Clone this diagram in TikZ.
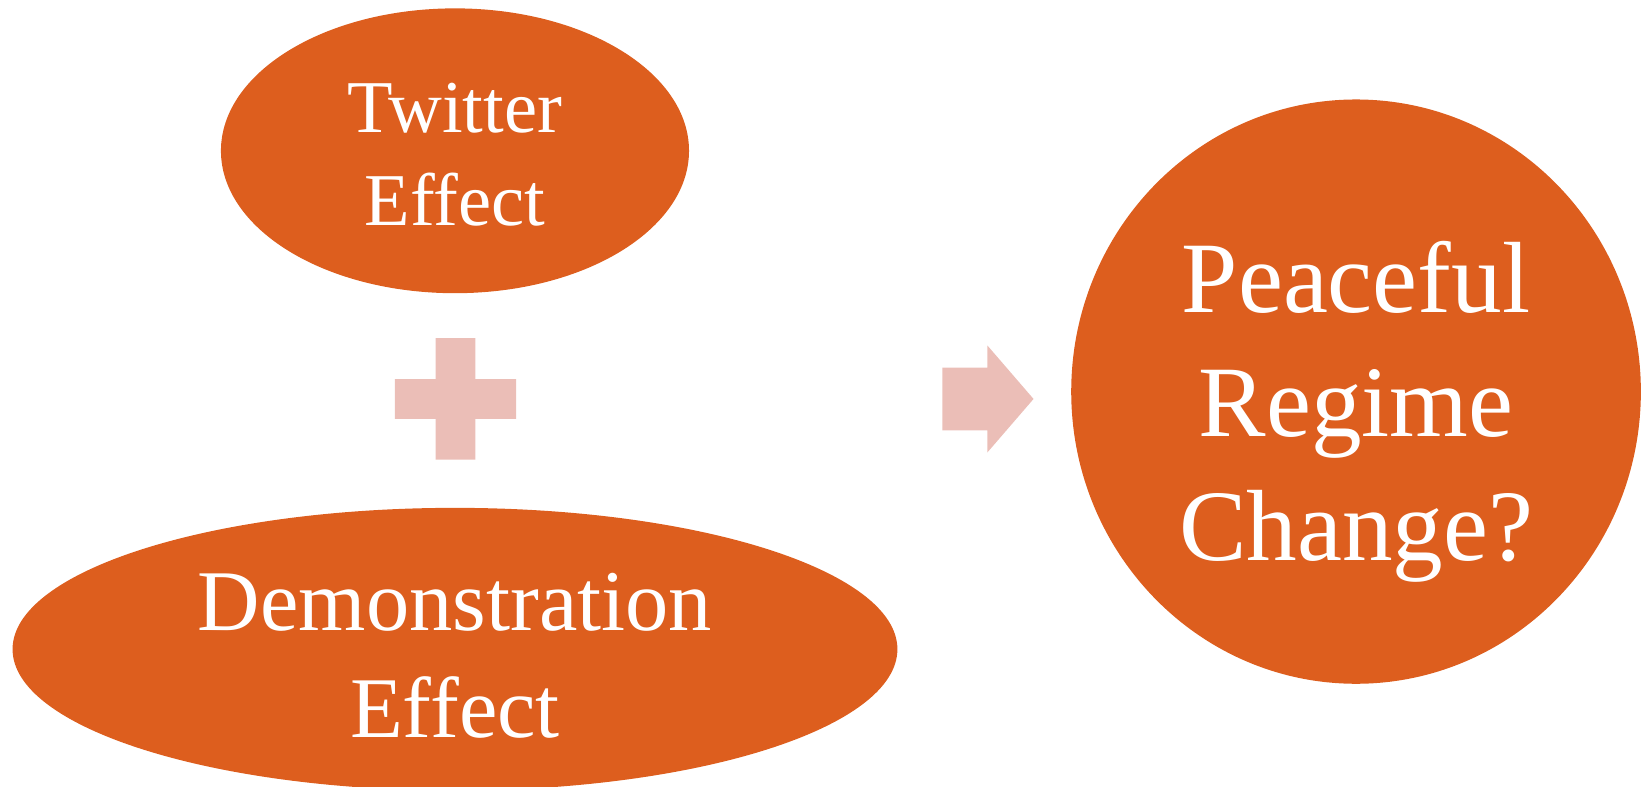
\documentclass[tikz,border=0pt]{standalone}
\usepackage{fontspec}
\setmainfont{Liberation Serif}
\usepackage{tikz}
\usetikzlibrary{shapes.geometric,calc}
\definecolor{rust}{RGB}{221,94,30}
\definecolor{blush}{RGB}{235,190,183}

\begin{document}
\begin{tikzpicture}
	\path [use as bounding box] (0,0) rectangle (31.4,15.03);
	\tikzstyle{blob} = [ellipse, fill=rust, inner sep=0pt]
	\tikzstyle{words} = [text=white, align=center, inner sep=0pt]
	\tikzstyle{glyph} = [fill=blush, draw=none]
	\node[blob, minimum width=8.94cm, minimum height=5.44cm] (twitter) at (8.69,12.15) {};
	\node[blob, minimum width=16.9cm, minimum height=5.4cm] (demo) at (8.69,2.63) {};
	\node[blob, minimum width=10.88cm, minimum height=11.16cm] (regime) at (25.9,7.55) {};
	\node[words, font=\fontsize{40.5}{50.5}\selectfont] (twitter text) at ($(twitter)+(0,-.08)$) {Twitter\\Effect};
	\node[words, font=\fontsize{47}{58}\selectfont] (demo text) at ($(demo)+(0,-.12)$) {Demonstration\\Effect};
	\node[words, font=\fontsize{55}{67.5}\selectfont] (regime text) at ($(regime)+(0,-.38)$) {Peaceful\\Regime\\Change?};
	\coordinate (P) at (8.7,7.41);
	\coordinate (T) at (19.74,7.41);
	\path[glyph] ($(P)+(-.38,1.16)$) -- ($(P)+(.38,1.16)$) -- ($(P)+(.38,.38)$) -- ($(P)+(1.16,.38)$)
		-- ($(P)+(1.16,-.38)$) -- ($(P)+(.38,-.38)$) -- ($(P)+(.38,-1.16)$) -- ($(P)+(-.38,-1.16)$)
		-- ($(P)+(-.38,-.38)$) -- ($(P)+(-1.16,-.38)$) -- ($(P)+(-1.16,.38)$) -- ($(P)+(-.38,.38)$) -- cycle;
	\path[glyph] ($(T)+(-1.74,.6)$) -- ($(T)+(-.88,.6)$) -- ($(T)+(-.88,1.02)$) -- (T)
		-- ($(T)+(-.88,-1.02)$) -- ($(T)+(-.88,-.6)$) -- ($(T)+(-1.74,-.6)$) -- cycle;
\end{tikzpicture}
\end{document}
